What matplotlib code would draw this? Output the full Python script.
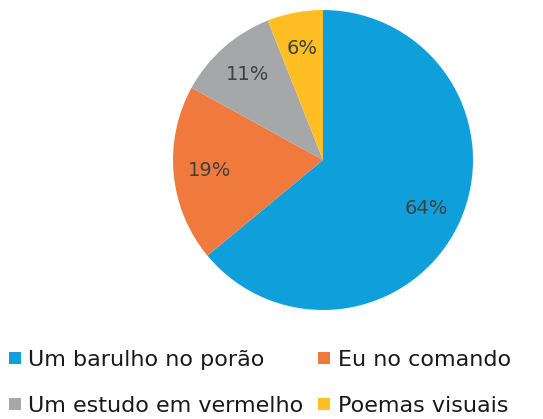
import matplotlib.pyplot as plt
from matplotlib.lines import Line2D

# data
labels = ['Um barulho no porão', 'Eu no comando', 'Um estudo em vermelho', 'Poemas visuais']
values = [64, 19, 11, 6]
colors = ['#0FA0DC', '#F07A3E', '#A6A7A8', '#FFBF24']

fig = plt.figure(figsize=(5.43, 4.19), dpi=100)
ax = fig.add_axes([173 / 543, 109 / 419, 300 / 543, 300 / 419])

wedges, texts, autotexts = ax.pie(
    values, colors=colors, startangle=90, counterclock=False,
    autopct='%1.0f%%', pctdistance=0.76,
    textprops={'fontsize': 14, 'color': '#404040'},
    wedgeprops={'linewidth': 0})
ax.set_xlim(-1, 1)
ax.set_ylim(-1, 1)
ax.set_aspect('equal')

# legend goes row by row in the picture, matplotlib fills by column
order = [0, 2, 1, 3]
handles = [Line2D([], [], marker='s', linestyle='none', markersize=8,
                  markerfacecolor=colors[i], markeredgewidth=0) for i in order]
fig.legend(handles, [labels[i] for i in order], ncol=2, frameon=False,
           loc='upper left', bbox_to_anchor=(7 / 543, 1 - 350 / 419),
           fontsize=16, handlelength=0.7, handletextpad=0.25,
           columnspacing=0.6, labelspacing=1.15, borderpad=0,
           borderaxespad=0, labelcolor='#1a1a1a')

fig.savefig('out.png', dpi=100)
